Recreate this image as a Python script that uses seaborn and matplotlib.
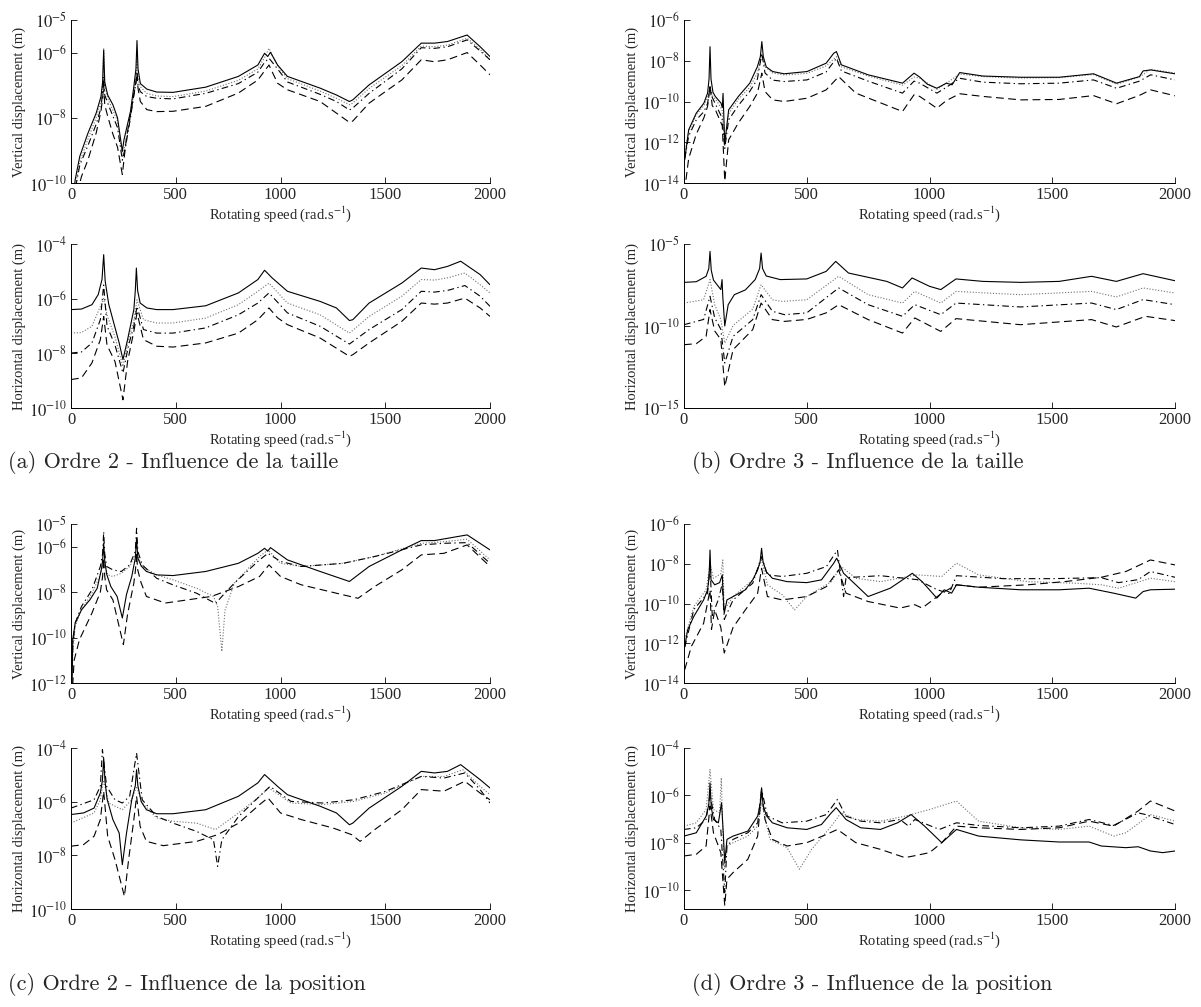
import numpy as np
import pandas as pd
import matplotlib
matplotlib.use("Agg")
import matplotlib.pyplot as plt
from matplotlib.ticker import FixedLocator, FuncFormatter, NullLocator
import seaborn as sns

# ---------------------------------------------------------------
# Data: (rotating speed [rad/s], log10 of displacement [m]) pairs
# ---------------------------------------------------------------
x_ticks = [0, 500, 1000, 1500, 2000]

# (a) Ordre 2 - Influence de la taille : vertical
a_vert_solid = [(5,-10.8),(20,-9.9),(42,-9.18),(81,-8.47),(120,-7.86),(143,-7.35),(151,-6.9),(156,-5.92),(161,-6.9),(175,-7.3),(200,-7.6),(222,-8.0),(245,-9.03),(253,-8.67),(284,-7.8),(300,-7.04),(310,-6.5),(315,-5.63),(320,-6.5),(331,-6.95),(362,-7.12),(409,-7.21),(487,-7.22),(643,-7.06),(799,-6.73),(892,-6.38),(924,-6.02),(939,-6.12),(952,-5.99),(986,-6.38),(1033,-6.73),(1189,-7.09),(1267,-7.30),(1329,-7.5),(1345,-7.45),(1423,-6.99),(1579,-6.28),(1672,-5.71),(1735,-5.71),(1797,-5.66),(1891,-5.46),(1953,-5.82),(2000,-6.12)]
a_vert_dotted = [(5,-11.0),(20,-10.1),(42,-9.35),(81,-8.65),(120,-8.0),(143,-7.5),(151,-7.0),(156,-5.87),(161,-7.0),(175,-7.4),(222,-8.1),(245,-9.2),(260,-8.8),(284,-7.95),(300,-7.2),(310,-6.8),(315,-6.2),(320,-6.8),(331,-7.05),(362,-7.25),(409,-7.33),(487,-7.35),(643,-7.18),(799,-6.85),(892,-6.5),(924,-6.15),(945,-5.87),(986,-6.4),(1033,-6.8),(1189,-7.18),(1267,-7.4),(1329,-7.6),(1345,-7.55),(1423,-7.1),(1579,-6.4),(1672,-5.8),(1735,-5.82),(1797,-5.77),(1891,-5.56),(1953,-5.9),(2000,-6.22)]
a_vert_dashdot = [(5,-11.0),(20,-10.2),(42,-9.45),(81,-8.85),(120,-8.2),(143,-7.7),(151,-7.2),(156,-6.73),(161,-7.3),(175,-7.55),(222,-8.3),(245,-9.3),(260,-8.9),(284,-8.0),(300,-7.3),(310,-6.95),(315,-6.58),(320,-7.0),(331,-7.2),(362,-7.35),(409,-7.4),(487,-7.42),(643,-7.25),(799,-6.95),(892,-6.6),(924,-6.3),(945,-6.17),(986,-6.5),(1033,-6.9),(1189,-7.28),(1267,-7.5),(1329,-7.76),(1345,-7.7),(1423,-7.25),(1579,-6.5),(1672,-5.85),(1735,-5.87),(1797,-5.82),(1891,-5.61),(1953,-5.95),(2000,-6.22)]
a_vert_dashed = [(30,-10.3),(50,-9.8),(81,-9.29),(120,-8.47),(143,-7.8),(151,-7.4),(156,-7.0),(161,-7.6),(175,-7.95),(200,-8.5),(222,-8.9),(245,-9.74),(265,-8.6),(300,-7.3),(310,-6.9),(315,-6.63),(320,-7.1),(331,-7.5),(362,-7.75),(409,-7.81),(487,-7.8),(643,-7.65),(799,-7.24),(892,-6.84),(945,-6.38),(986,-6.94),(1033,-7.14),(1189,-7.5),(1329,-8.14),(1345,-8.1),(1423,-7.55),(1579,-6.84),(1672,-6.22),(1735,-6.28),(1797,-6.22),(1891,-6.0),(1953,-6.38),(2000,-6.68)]

# (a) horizontal
a_horiz_solid = [(0,-6.40),(50,-6.38),(100,-6.22),(130,-5.85),(148,-5.3),(156,-4.39),(163,-5.35),(180,-6.2),(200,-6.77),(230,-7.62),(248,-8.23),(270,-7.5),(300,-6.40),(307,-5.7),(312,-4.88),(318,-5.7),(330,-6.16),(362,-6.34),(409,-6.40),(487,-6.40),(643,-6.26),(799,-5.79),(892,-5.30),(924,-4.96),(960,-5.24),(1033,-5.73),(1189,-6.10),(1267,-6.34),(1329,-6.80),(1345,-6.77),(1423,-6.16),(1579,-5.43),(1672,-4.88),(1735,-4.94),(1797,-4.82),(1860,-4.63),(1953,-5.12),(2000,-5.49)]
a_horiz_dotted = [(0,-7.26),(50,-7.24),(100,-7.01),(140,-6.28),(156,-6.0),(172,-6.6),(210,-7.4),(248,-8.48),(275,-7.5),(300,-6.8),(315,-6.04),(346,-6.77),(409,-6.89),(487,-6.89),(643,-6.71),(799,-6.22),(892,-5.73),(945,-5.43),(1033,-6.16),(1189,-6.59),(1329,-7.26),(1423,-6.65),(1579,-5.91),(1672,-5.30),(1735,-5.32),(1797,-5.24),(1880,-5.06),(1953,-5.49),(2000,-5.79)]
a_horiz_dashdot = [(0,-7.99),(50,-7.95),(100,-7.62),(140,-6.77),(156,-5.5),(172,-7.0),(210,-7.7),(248,-8.72),(275,-7.7),(300,-7.0),(315,-6.28),(346,-7.13),(409,-7.26),(487,-7.26),(643,-7.07),(799,-6.59),(892,-6.16),(945,-5.79),(1033,-6.52),(1189,-7.01),(1329,-7.66),(1423,-7.13),(1579,-6.40),(1672,-5.73),(1735,-5.76),(1797,-5.70),(1880,-5.52),(1953,-5.91),(2000,-6.28)]
a_horiz_dashed = [(0,-8.96),(50,-8.9),(100,-8.35),(140,-7.5),(156,-6.65),(172,-7.7),(210,-8.3),(248,-9.70),(270,-8.3),(300,-7.2),(315,-6.52),(346,-7.5),(409,-7.74),(487,-7.77),(643,-7.62),(799,-7.26),(892,-6.77),(945,-6.34),(986,-6.7),(1033,-6.95),(1189,-7.44),(1329,-8.11),(1345,-8.05),(1423,-7.62),(1579,-6.83),(1672,-6.16),(1735,-6.2),(1797,-6.16),(1880,-5.98),(1953,-6.34),(2000,-6.65)]

# (b) Ordre 3 - Influence de la taille : vertical
b_vert_solid = [(3,-12.86),(19,-11.39),(50,-10.57),(81,-10.08),(96,-9.59),(102,-8.9),(106,-7.31),(110,-8.9),(118,-9.55),(128,-9.76),(151,-10.08),(156,-10.3),(159,-9.6),(166,-12.04),(182,-10.41),(221,-9.76),(268,-9.10),(299,-8.29),(311,-7.8),(317,-7.06),(323,-7.8),(335,-8.3),(361,-8.53),(408,-8.64),(501,-8.53),(579,-8.12),(610,-7.63),(621,-7.55),(641,-8.2),(750,-8.69),(890,-9.10),(937,-8.61),(960,-8.8),(991,-9.15),(1030,-9.35),(1069,-9.1),(1092,-9.18),(1123,-8.58),(1217,-8.75),(1372,-8.81),(1528,-8.81),(1668,-8.64),(1746,-9.02),(1762,-9.10),(1808,-8.94),(1855,-8.78),(1870,-8.5),(1901,-8.45),(2000,-8.64)]
b_vert_dotted = [(3,-12.5),(19,-11.5),(50,-10.65),(81,-10.2),(96,-9.8),(106,-9.27),(115,-9.7),(135,-10.0),(155,-10.4),(166,-12.2),(182,-10.6),(221,-9.9),(268,-9.3),(299,-8.6),(317,-7.8),(330,-8.3),(361,-8.6),(408,-8.7),(501,-8.62),(579,-8.25),(621,-7.8),(641,-8.3),(750,-8.75),(890,-9.2),(937,-8.8),(960,-8.85),(1030,-9.4),(1069,-9.1),(1123,-8.65),(1217,-8.78),(1372,-8.85),(1528,-8.83),(1668,-8.68),(1762,-9.15),(1855,-8.8),(1901,-8.42),(2000,-8.6)]
b_vert_dashdot = [(3,-12.8),(19,-11.7),(50,-10.9),(81,-10.5),(96,-10.1),(106,-9.27),(115,-9.8),(135,-10.3),(155,-10.8),(166,-12.3),(182,-10.9),(221,-10.2),(268,-9.5),(299,-8.9),(317,-7.63),(330,-8.6),(361,-8.95),(408,-9.02),(501,-8.94),(579,-8.55),(621,-7.88),(641,-8.5),(750,-9.0),(890,-9.59),(937,-9.0),(960,-9.1),(1030,-9.59),(1069,-9.3),(1123,-8.86),(1217,-9.05),(1372,-9.13),(1528,-9.1),(1668,-8.94),(1762,-9.35),(1855,-9.0),(1901,-8.69),(2000,-8.94)]
b_vert_dashed = [(8,-13.84),(19,-12.8),(50,-11.6),(81,-10.8),(96,-10.24),(106,-9.27),(115,-10.2),(128,-10.41),(156,-11.2),(166,-13.9),(182,-11.88),(221,-11.06),(268,-10.24),(299,-9.59),(317,-8.61),(330,-9.51),(361,-9.92),(408,-10.0),(501,-9.84),(579,-9.43),(630,-8.78),(700,-9.59),(890,-10.49),(937,-9.67),(960,-9.75),(1030,-10.33),(1069,-9.95),(1123,-9.62),(1217,-9.75),(1372,-9.92),(1528,-9.9),(1668,-9.71),(1762,-10.11),(1855,-9.7),(1901,-9.43),(2000,-9.72)]

# (b) horizontal
b_horiz_solid = [(0,-7.34),(50,-7.3),(90,-6.97),(101,-6.5),(106,-5.45),(111,-6.6),(120,-7.2),(150,-7.78),(155,-7.17),(158,-8.2),(166,-10.0),(180,-8.7),(205,-8.09),(250,-7.8),(290,-7.17),(308,-6.5),(314,-5.55),(320,-6.5),(335,-6.95),(392,-7.17),(500,-7.13),(579,-6.67),(618,-6.06),(670,-6.77),(826,-7.28),(890,-7.68),(929,-7.07),(1000,-7.58),(1046,-7.78),(1108,-7.13),(1217,-7.28),(1372,-7.34),(1528,-7.28),(1660,-6.97),(1761,-7.28),(1870,-6.81),(2000,-7.24)]
b_horiz_dotted = [(0,-8.60),(80,-8.4),(106,-7.17),(125,-8.7),(150,-9.6),(166,-11.04),(200,-9.97),(280,-8.97),(314,-7.48),(360,-8.4),(400,-8.5),(500,-8.4),(630,-6.97),(750,-8.09),(890,-8.6),(940,-7.89),(1046,-8.6),(1108,-7.89),(1370,-8.09),(1660,-7.89),(1761,-8.23),(1870,-7.68),(2000,-7.99)]
b_horiz_dashdot = [(0,-9.92),(80,-9.6),(106,-8.19),(125,-9.5),(150,-10.2),(166,-12.26),(200,-10.63),(280,-9.61),(314,-8.09),(360,-9.1),(409,-9.31),(500,-9.2),(630,-7.68),(750,-8.7),(890,-9.41),(940,-8.7),(1046,-9.31),(1108,-8.60),(1370,-8.84),(1660,-8.60),(1761,-9.0),(1870,-8.39),(2000,-8.70)]
b_horiz_dashed = [(0,-11.14),(50,-11.08),(90,-10.63),(106,-9.0),(125,-10.3),(150,-10.83),(166,-13.7),(200,-11.44),(280,-10.22),(314,-8.6),(360,-9.61),(409,-9.72),(500,-9.6),(579,-9.2),(630,-8.70),(750,-9.61),(890,-10.43),(940,-9.51),(1046,-10.33),(1108,-9.55),(1370,-9.92),(1660,-9.61),(1761,-10.06),(1880,-9.41),(2000,-9.67)]

# (c) Ordre 2 - Influence de la position : vertical
c_vert_solid = [(5,-12.3),(8,-10.1),(20,-9.36),(50,-8.78),(90,-8.34),(125,-7.83),(145,-7.0),(151,-6.6),(156,-5.85),(161,-6.6),(170,-7.2),(190,-7.75),(220,-8.19),(245,-9.14),(265,-8.1),(290,-7.31),(307,-6.5),(313,-5.63),(319,-6.5),(335,-6.85),(360,-7.09),(409,-7.24),(487,-7.27),(643,-7.09),(799,-6.73),(892,-6.29),(924,-6.07),(939,-6.2),(952,-6.04),(1033,-6.58),(1189,-7.09),(1329,-7.53),(1423,-6.87),(1579,-6.14),(1672,-5.73),(1735,-5.73),(1797,-5.63),(1891,-5.48),(2000,-6.14)]
c_vert_dotted = [(3,-11.8),(10,-10.5),(20,-9.5),(50,-8.78),(100,-8.05),(140,-7.24),(156,-6.58),(175,-7.24),(200,-7.31),(240,-7.17),(280,-6.87),(300,-6.5),(313,-6.29),(340,-6.87),(409,-7.24),(487,-7.46),(600,-7.83),(680,-8.19),(700,-8.63),(720,-10.61),(735,-8.8),(780,-7.6),(900,-6.43),(940,-6.14),(1000,-6.73),(1100,-6.87),(1300,-6.73),(1450,-6.43),(1672,-5.85),(1780,-5.78),(1891,-5.67),(2000,-6.58)]
c_vert_dashdot = [(4,-11.3),(10,-10.2),(20,-9.36),(50,-8.63),(100,-7.9),(140,-6.87),(151,-6.3),(156,-5.34),(161,-6.3),(170,-6.87),(200,-7.02),(240,-7.09),(280,-6.8),(307,-6.2),(313,-5.19),(319,-6.2),(340,-6.8),(409,-7.39),(487,-7.68),(600,-8.05),(690,-8.5),(720,-8.19),(780,-7.6),(900,-6.58),(940,-6.29),(1000,-6.65),(1100,-6.87),(1300,-6.73),(1450,-6.43),(1672,-5.92),(1780,-5.85),(1891,-5.82),(2000,-6.73)]
c_vert_dashed = [(8,-12.1),(15,-11.0),(40,-10.1),(100,-8.92),(140,-8.0),(151,-7.3),(156,-6.51),(161,-7.3),(170,-7.9),(200,-8.34),(250,-10.31),(270,-8.97),(300,-7.6),(308,-7.0),(313,-6.29),(318,-7.0),(335,-7.6),(360,-8.19),(450,-8.48),(670,-8.19),(800,-7.75),(900,-7.31),(945,-6.8),(1000,-7.31),(1100,-7.68),(1300,-8.12),(1370,-8.27),(1450,-7.75),(1579,-7.02),(1672,-6.36),(1780,-6.29),(1891,-5.92),(2000,-6.87)]

# (c) horizontal
c_horiz_solid = [(0,-6.48),(60,-6.42),(110,-6.24),(140,-5.68),(150,-5.2),(156,-4.37),(162,-5.2),(172,-5.9),(200,-6.67),(230,-7.17),(245,-8.35),(265,-7.17),(290,-5.93),(307,-5.4),(313,-4.81),(319,-5.4),(335,-6.0),(360,-6.30),(409,-6.45),(487,-6.45),(643,-6.30),(799,-5.80),(892,-5.30),(924,-4.99),(986,-5.43),(1033,-5.74),(1189,-6.17),(1267,-6.42),(1329,-6.86),(1345,-6.8),(1423,-6.24),(1579,-5.43),(1672,-4.87),(1735,-4.93),(1797,-4.87),(1860,-4.62),(1953,-5.18),(2000,-5.49)]
c_horiz_dotted = [(0,-6.80),(110,-6.42),(140,-5.93),(156,-5.2),(180,-6.05),(245,-6.30),(290,-5.93),(313,-5.43),(340,-6.05),(409,-6.61),(487,-6.73),(600,-6.80),(690,-7.04),(800,-6.42),(900,-5.80),(945,-5.49),(1050,-6.05),(1200,-6.11),(1350,-5.99),(1500,-5.68),(1672,-5.06),(1780,-5.06),(1870,-4.81),(1953,-5.43),(2000,-5.74)]
c_horiz_dashdot = [(0,-6.24),(110,-5.93),(140,-5.43),(150,-4.06),(170,-5.43),(210,-5.93),(245,-6.05),(280,-5.80),(313,-4.19),(340,-5.93),(409,-6.55),(487,-6.80),(600,-7.11),(680,-7.42),(700,-8.41),(720,-7.42),(800,-6.55),(900,-5.80),(950,-5.43),(1050,-5.99),(1200,-6.05),(1350,-5.93),(1500,-5.62),(1672,-5.06),(1780,-5.12),(1880,-4.93),(1953,-5.55),(2000,-6.05)]
c_horiz_dashed = [(0,-7.66),(60,-7.6),(110,-7.29),(140,-6.67),(156,-5.61),(175,-7.29),(210,-8.16),(255,-9.53),(275,-8.16),(300,-6.67),(313,-5.80),(330,-6.92),(360,-7.48),(440,-7.64),(600,-7.48),(700,-7.23),(800,-6.80),(900,-6.11),(940,-5.86),(1000,-6.42),(1100,-6.67),(1250,-6.98),(1340,-7.23),(1380,-7.48),(1450,-7.04),(1579,-6.30),(1672,-5.55),(1780,-5.61),(1880,-5.24),(1953,-5.68),(2000,-5.93)]

# (d) Ordre 3 - Influence de la position : vertical
d_vert_solid = [(3,-12.16),(15,-11.32),(40,-10.65),(80,-9.82),(96,-9.31),(102,-8.7),(106,-7.31),(110,-8.8),(125,-9.06),(145,-8.95),(156,-8.56),(160,-9.7),(164,-10.49),(175,-9.82),(200,-9.65),(250,-9.31),(280,-8.81),(300,-8.31),(310,-7.9),(316,-7.22),(322,-7.9),(335,-8.4),(360,-8.73),(420,-8.9),(500,-8.95),(560,-8.81),(610,-7.97),(622,-7.72),(650,-8.48),(700,-9.06),(750,-9.65),(840,-9.23),(930,-8.48),(970,-8.9),(1030,-9.73),(1060,-9.31),(1090,-9.48),(1110,-9.06),(1200,-9.18),(1372,-9.31),(1528,-9.31),(1650,-9.23),(1750,-9.48),(1840,-9.73),(1870,-9.4),(1900,-9.31),(2000,-9.28)]
d_vert_dotted = [(3,-11.8),(40,-10.15),(90,-9.31),(106,-8.0),(120,-8.73),(150,-8.5),(158,-7.81),(164,-10.32),(200,-9.65),(280,-8.81),(316,-7.81),(340,-9.06),(400,-9.56),(450,-10.32),(500,-9.65),(600,-8.9),(640,-8.14),(700,-8.73),(800,-8.9),(950,-8.56),(1050,-8.64),(1110,-7.97),(1200,-8.56),(1400,-8.9),(1600,-8.98),(1700,-9.06),(1770,-9.23),(1900,-8.73),(2000,-8.9)]
d_vert_dashdot = [(3,-12.2),(40,-10.3),(96,-9.48),(106,-8.1),(115,-10.6),(140,-9.8),(156,-9.0),(164,-10.8),(200,-9.82),(280,-8.98),(316,-7.64),(340,-8.56),(400,-8.64),(500,-8.48),(580,-8.14),(625,-7.31),(650,-9.65),(660,-8.7),(800,-8.6),(950,-8.8),(1030,-9.3),(1080,-9.5),(1110,-8.6),(1300,-8.75),(1500,-8.75),(1700,-8.7),(1770,-8.95),(1850,-8.8),(1900,-8.39),(2000,-8.68)]
d_vert_dashed = [(3,-13.33),(30,-12.16),(80,-10.99),(106,-9.31),(112,-11.3),(125,-10.32),(150,-11.2),(164,-12.49),(200,-11.2),(250,-10.32),(300,-9.48),(316,-8.23),(340,-9.65),(400,-9.82),(500,-9.65),(580,-9.15),(630,-8.31),(660,-9.48),(750,-9.90),(880,-10.23),(940,-10.06),(970,-10.23),(1050,-9.48),(1110,-9.06),(1200,-9.18),(1400,-9.06),(1550,-8.9),(1700,-8.68),(1800,-8.39),(1900,-7.81),(2000,-8.06)]

# (d) horizontal
d_horiz_solid = [(0,-7.72),(50,-7.58),(90,-6.88),(101,-6.4),(106,-5.47),(111,-6.5),(120,-7.02),(140,-7.16),(153,-6.31),(160,-7.6),(166,-8.84),(175,-7.86),(200,-7.72),(260,-7.51),(300,-6.88),(310,-6.4),(316,-5.68),(322,-6.4),(335,-6.85),(360,-7.16),(420,-7.37),(500,-7.44),(560,-7.23),(600,-6.74),(620,-6.52),(660,-7.02),(720,-7.37),(800,-7.44),(870,-7.16),(925,-6.81),(980,-7.3),(1050,-8.0),(1080,-7.72),(1110,-7.44),(1200,-7.72),(1372,-7.88),(1528,-7.97),(1650,-7.97),(1700,-8.14),(1800,-8.21),(1850,-8.17),(1900,-8.35),(1950,-8.42),(2000,-8.35)]
d_horiz_dotted = [(0,-7.30),(50,-7.16),(90,-6.6),(106,-4.91),(120,-6.6),(145,-6.74),(152,-5.26),(158,-7.5),(165,-9.1),(175,-8.14),(200,-8.0),(260,-7.72),(300,-7.3),(316,-6.31),(350,-7.86),(420,-8.21),(470,-9.12),(520,-8.28),(600,-7.3),(640,-6.73),(700,-7.02),(800,-7.09),(900,-6.88),(1000,-6.6),(1110,-6.24),(1200,-7.09),(1372,-7.37),(1528,-7.44),(1650,-7.3),(1750,-7.72),(1800,-7.58),(1900,-6.81),(2000,-7.09)]
d_horiz_dashdot = [(0,-7.44),(50,-7.37),(90,-7.02),(106,-5.96),(125,-7.02),(150,-7.44),(166,-10.1),(175,-8.14),(200,-7.86),(260,-7.58),(300,-7.16),(316,-5.75),(340,-6.88),(400,-7.16),(500,-7.09),(580,-6.81),(625,-6.17),(660,-6.88),(720,-7.09),(800,-7.16),(880,-7.02),(915,-7.3),(940,-7.02),(1040,-7.44),(1110,-7.16),(1200,-7.27),(1372,-7.37),(1528,-7.3),(1650,-7.02),(1750,-7.27),(1850,-6.74),(1880,-6.81),(2000,-7.23)]
d_horiz_dashed = [(0,-8.56),(50,-8.49),(90,-8.14),(106,-6.45),(120,-7.58),(150,-8.42),(166,-10.66),(175,-9.54),(200,-9.26),(260,-8.7),(300,-7.72),(316,-5.82),(330,-7.02),(360,-7.86),(420,-8.14),(500,-8.0),(580,-7.65),(625,-7.44),(700,-8.0),(800,-8.28),(900,-8.63),(935,-8.56),(1000,-8.42),(1050,-8.0),(1110,-7.30),(1200,-7.37),(1372,-7.44),(1528,-7.37),(1650,-7.09),(1750,-7.3),(1850,-6.66),(1900,-6.24),(2000,-6.66)]

captions = ["(a) Ordre 2 - Influence de la taille",
            "(b) Ordre 3 - Influence de la taille",
            "(c) Ordre 2 - Influence de la position",
            "(d) Ordre 3 - Influence de la position"]

# ---------------------------------------------------------------
sns.set_theme(style="ticks")
plt.rcParams["font.family"] = ["Liberation Serif", "DejaVu Serif"]
plt.rcParams["mathtext.fontset"] = "stix"

W, H = 1201, 1007
fig = plt.figure(figsize=(W / 100, H / 100), dpi=100)


def rect(l, r, t, b):
    return [l / W, 1 - b / H, (r - l) / W, (b - t) / H]


styles = {
    "solid": dict(color="black", linestyle="-"),
    "dotted": dict(color="#707070", linestyle=(0, (1, 1.6))),
    "dashdot": dict(color="black", linestyle=(0, (6, 3, 1.2, 3))),
    "dashed": dict(color="black", linestyle=(0, (7, 4))),
}

LA, RA = 71, 490      # left column axes (px)
LB, RB = 684, 1175    # right column axes (px)

panels = [
    (rect(LA, RA, 20, 183), "Vertical displacement (m)", (-10, -5), [-10, -8, -6, -5],
     dict(solid=a_vert_solid, dotted=a_vert_dotted, dashdot=a_vert_dashdot, dashed=a_vert_dashed)),
    (rect(LA, RA, 244, 408), "Horizontal displacement (m)", (-10, -4), [-10, -8, -6, -4],
     dict(solid=a_horiz_solid, dotted=a_horiz_dotted, dashdot=a_horiz_dashdot, dashed=a_horiz_dashed)),
    (rect(LB, RB, 20, 183), "Vertical displacement (m)", (-14, -6), [-14, -12, -10, -8, -6],
     dict(solid=b_vert_solid, dotted=b_vert_dotted, dashdot=b_vert_dashdot, dashed=b_vert_dashed)),
    (rect(LB, RB, 244, 408), "Horizontal displacement (m)", (-15, -5), [-15, -10, -5],
     dict(solid=b_horiz_solid, dotted=b_horiz_dotted, dashdot=b_horiz_dashdot, dashed=b_horiz_dashed)),
    (rect(LA, RA, 524, 683), "Vertical displacement (m)", (-12, -5), [-12, -10, -8, -6, -5],
     dict(solid=c_vert_solid, dotted=c_vert_dotted, dashdot=c_vert_dashdot, dashed=c_vert_dashed)),
    (rect(LA, RA, 748, 909), "Horizontal displacement (m)", (-10, -4), [-10, -8, -6, -4],
     dict(solid=c_horiz_solid, dotted=c_horiz_dotted, dashdot=c_horiz_dashdot, dashed=c_horiz_dashed)),
    (rect(LB, RB, 524, 683), "Vertical displacement (m)", (-14, -6), [-14, -12, -10, -8, -6],
     dict(solid=d_vert_solid, dotted=d_vert_dotted, dashdot=d_vert_dashdot, dashed=d_vert_dashed)),
    (rect(LB, RB, 748, 909), "Horizontal displacement (m)", (-10.8, -4), [-10, -8, -6, -4],
     dict(solid=d_horiz_solid, dotted=d_horiz_dotted, dashdot=d_horiz_dashdot, dashed=d_horiz_dashed)),
]

for pos, ylabel, (lo, hi), yt, curves in panels:
    ax = fig.add_axes(pos)
    for name in ["dotted", "dashdot", "dashed", "solid"]:
        pts = curves[name]
        df = pd.DataFrame(pts, columns=["speed", "logdisp"])
        df["disp"] = 10.0 ** df["logdisp"]
        sns.lineplot(data=df, x="speed", y="disp", ax=ax, estimator=None, sort=False,
                     linewidth=0.8, legend=False, **styles[name])
    ax.set_yscale("log")
    ax.set_xlim(0, 2000)
    ax.set_ylim(10.0 ** lo, 10.0 ** hi)
    ax.xaxis.set_major_locator(FixedLocator(x_ticks))
    ax.yaxis.set_major_locator(FixedLocator([10.0 ** e for e in yt]))
    ax.yaxis.set_minor_locator(NullLocator())
    ax.yaxis.set_major_formatter(FuncFormatter(lambda v, p: r"$10^{%d}$" % int(round(np.log10(v)))))
    ax.tick_params(direction="in", length=4, width=0.7, labelsize=12, pad=3,
                   top=False, right=False)
    for s in ["top", "right"]:
        ax.spines[s].set_visible(False)
    for s in ["left", "bottom"]:
        ax.spines[s].set_linewidth(0.7)
        ax.spines[s].set_color("black")
    ax.set_xlabel(r"Rotating speed (rad.s$^{-1}$)", fontsize=10.5, labelpad=1)
    ax.set_ylabel(ylabel, fontsize=10.5, labelpad=2)

cap_pos = [(8, 462), (692, 462), (8, 985), (692, 985)]
for (cx, cy), txt in zip(cap_pos, captions):
    fig.text(cx / W, 1 - cy / H, txt, ha="left", va="center", fontsize=16,
             family=["cmr10", "DejaVu Serif"])

fig.savefig("out.png", dpi=100)
